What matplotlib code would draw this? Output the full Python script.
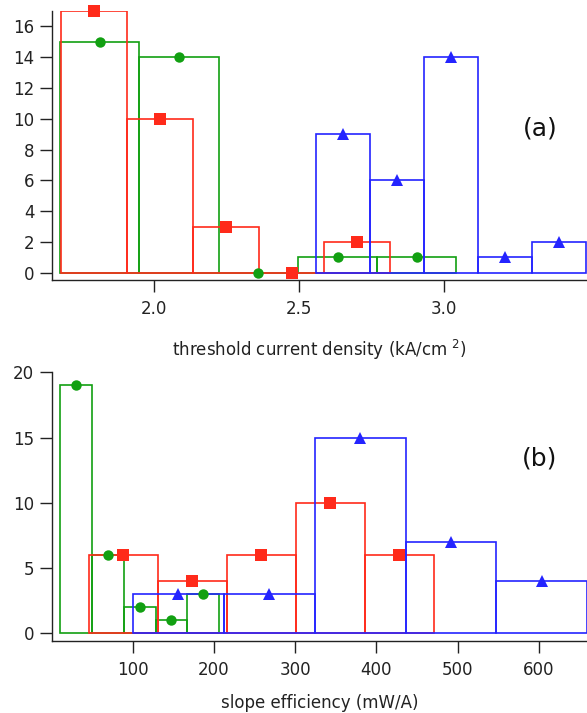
import numpy as np
import matplotlib
matplotlib.use("Agg")
import matplotlib.pyplot as plt

plt.rcParams['font.family'] = ['DejaVu Sans']

# ---- panel (a): threshold current density histograms ----
jth_red_start, jth_red_width = 1.682, 0.2268
jth_red_counts = [17, 10, 3, 0, 2]

jth_green_start, jth_green_width = 1.678, 0.2732
jth_green_counts = [15, 14, 0, 1, 1]

jth_blue_start, jth_blue_width = 2.560, 0.186
jth_blue_counts = [9, 6, 14, 1, 2]

jth_ticks = [2.0, 2.5, 3.0]
jth_yticks = [0, 2, 4, 6, 8, 10, 12, 14, 16]

# ---- panel (b): slope efficiency histograms ----
se_red_start, se_red_width = 45.5, 85.1
se_red_counts = [6, 4, 6, 10, 6]

se_green_start, se_green_width = 10.8, 39.1
se_green_counts = [19, 6, 2, 1, 3]

se_blue_start, se_blue_width = 100.0, 112.0
se_blue_counts = [3, 3, 15, 7, 4]

se_ticks = [100, 200, 300, 400, 500, 600]
se_yticks = [0, 5, 10, 15, 20]

RED = '#ff2a1a'
GREEN = '#12a012'
BLUE = '#2424ff'
INK = '#222222'
FS = 12


def draw_hist(ax, start, width, counts, color, marker, msize, z):
    counts = np.asarray(counts, dtype=float)
    lefts = start + width * np.arange(len(counts))
    ax.bar(lefts, counts, width=width, align='edge', fill=False,
           edgecolor=color, linewidth=1.2, zorder=z)
    ax.plot(lefts + width / 2, counts, linestyle='none', marker=marker,
            markersize=msize, color=color, markeredgewidth=0, zorder=z + 5,
            clip_on=False)


def style_axes(ax):
    for side in ('top', 'right'):
        ax.spines[side].set_visible(False)
    for side in ('left', 'bottom'):
        ax.spines[side].set_color(INK)
        ax.spines[side].set_linewidth(1.0)
    ax.tick_params(axis='both', direction='out', length=8.5, width=1.0,
                   color=INK, labelsize=FS, labelcolor=INK)
    ax.tick_params(axis='x', pad=6)
    ax.tick_params(axis='y', pad=4)


fig = plt.figure(figsize=(5.87, 7.13), dpi=100)

ax1 = fig.add_axes([0.0886, 0.6073, 0.9114, 0.3773])
draw_hist(ax1, jth_green_start, jth_green_width, jth_green_counts, GREEN, 'o', 7.5, 2)
draw_hist(ax1, jth_red_start, jth_red_width, jth_red_counts, RED, 's', 8.5, 3)
draw_hist(ax1, jth_blue_start, jth_blue_width, jth_blue_counts, BLUE, '^', 8.5, 4)
ax1.set_xlim(1.65, 3.494)
ax1.set_ylim(-0.47, 17.0)
ax1.set_xticks(jth_ticks)
ax1.set_xticklabels(['%.1f' % t for t in jth_ticks])
ax1.set_yticks(jth_yticks)
style_axes(ax1)
ax1.set_xlabel('threshold current density (kA/cm $^{2}$)', fontsize=FS,
               color=INK, labelpad=14)
ax1.text(0.912, 0.565, '(a)', transform=ax1.transAxes, fontsize=18,
         ha='center', va='center', color='#111111')

ax2 = fig.add_axes([0.0879, 0.1010, 0.9121, 0.3768])
draw_hist(ax2, se_green_start, se_green_width, se_green_counts, GREEN, 'o', 7.5, 2)
draw_hist(ax2, se_red_start, se_red_width, se_red_counts, RED, 's', 8.5, 3)
draw_hist(ax2, se_blue_start, se_blue_width, se_blue_counts, BLUE, '^', 8.5, 4)
ax2.set_xlim(0, 659.5)
ax2.set_ylim(-0.59, 20.0)
ax2.set_xticks(se_ticks)
ax2.set_yticks(se_yticks)
style_axes(ax2)
ax2.set_xlabel('slope efficiency (mW/A)', fontsize=FS, color=INK,
               labelpad=11)
ax2.text(0.911, 0.68, '(b)', transform=ax2.transAxes, fontsize=18,
         ha='center', va='center', color='#111111')

fig.savefig('out.png', dpi=100)
